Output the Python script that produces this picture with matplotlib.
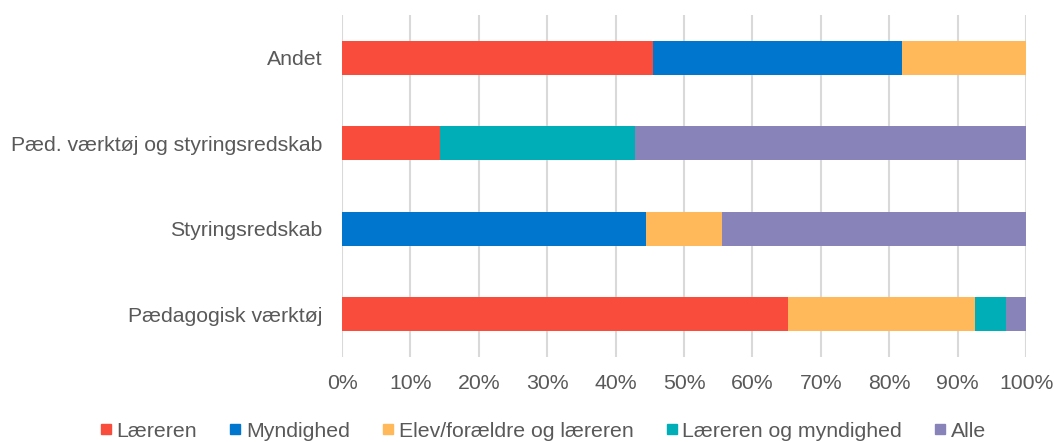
import matplotlib.pyplot as plt
from matplotlib.lines import Line2D
from matplotlib.ticker import PercentFormatter

plt.rcParams['font.family'] = ['Liberation Sans', 'DejaVu Sans']

categories = ['Pædagogisk værktøj', 'Styringsredskab',
              'Pæd. værktøj og styringsredskab', 'Andet']
series = ['Læreren', 'Myndighed', 'Elev/forældre og læreren',
          'Læreren og myndighed', 'Alle']
colors = ['#F94C3C', '#0076CE', '#FFB85A', '#00AEB8', '#8884BA']

# shares per category (in %), one list per series
laereren = [65.2, 0.0, 14.3, 45.5]
myndighed = [0.0, 44.4, 0.0, 36.4]
elev = [27.3, 11.1, 0.0, 18.1]
laer_mynd = [4.5, 0.0, 28.6, 0.0]
alle = [3.0, 44.5, 57.1, 0.0]
values = [laereren, myndighed, elev, laer_mynd, alle]

fig = plt.figure(figsize=(10.54, 4.42), dpi=100)
ax = fig.add_axes([0.3245, 0.192, 0.649, 0.774])

left = [0.0] * len(categories)
for name, vals, col in zip(series, values, colors):
    ax.barh(categories, vals, left=left, height=0.4, color=col, label=name)
    left = [a + b for a, b in zip(left, vals)]

ax.set_xlim(0, 100)
ax.set_ylim(-0.5, 3.5)
ax.set_xticks(range(0, 101, 10))
ax.xaxis.set_major_formatter(PercentFormatter(decimals=0))
ax.grid(axis='x', color='#D9D9D9', linewidth=1.5)
ax.set_axisbelow(True)
for s in ax.spines.values():
    s.set_visible(False)
ax.tick_params(axis='x', length=0, pad=12, labelsize=15.3, labelcolor='#595959')
ax.tick_params(axis='y', length=0, pad=14, labelsize=15.3, labelcolor='#595959')

handles = [Line2D([], [], marker='s', linestyle='none', markersize=7.5,
                  color=c) for c in colors]
fig.legend(handles, series, loc='lower center', bbox_to_anchor=(0.515, -0.04),
           ncol=5, frameon=False, fontsize=15.3, labelcolor='#595959',
           handlelength=0.6, handletextpad=0.2, columnspacing=1.5)

fig.savefig('out.png', dpi=100)
